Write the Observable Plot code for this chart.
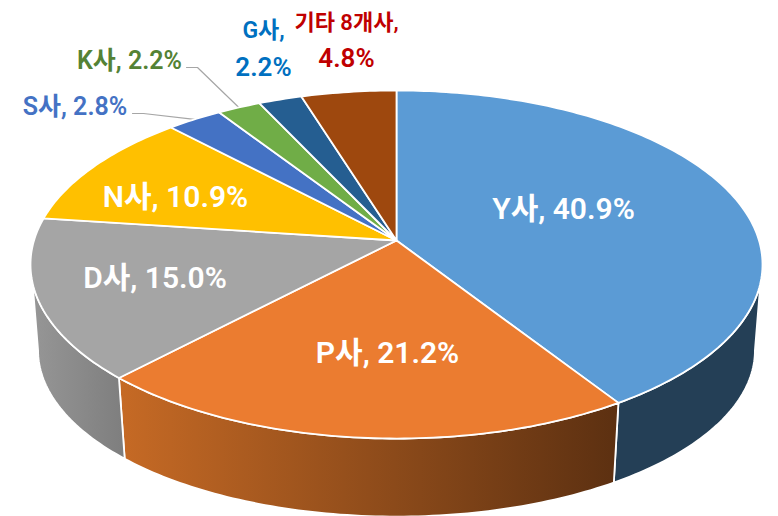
<!DOCTYPE html>
<html lang="ko">
<head>
<meta charset="utf-8">
<style>html,body{margin:0;padding:0;background:#fff}</style>
<script src="https://cdn.jsdelivr.net/npm/d3@7"></script>
<script src="https://cdn.jsdelivr.net/npm/@observablehq/plot@0.6"></script>
</head>
<body>
<script>
// Data
const companies = ["Y사", "P사", "D사", "N사", "S사", "K사", "G사", "기타 8개사"];
const shares = [40.9, 21.2, 15.0, 10.9, 2.8, 2.2, 2.2, 4.8];
const topColors = ["#5B9BD5", "#EB7C30", "#A5A5A5", "#FFC000", "#4472C4", "#70AD47", "#255E91", "#9E480E"];

// Perspective model of the two disks of the pie
const W = 778, H = 516, K = 0.138;
const TOP = {cx: 396, cy: 240, R: 362.5, A: 170.7};
const BOT = {cx: 396, cy: 327, R: 355, A: 163};
const project = (d, deg) => {
  const a = deg * Math.PI / 180, u = Math.sin(a), v = Math.cos(a), w = 1 + K * v;
  return {x: d.cx + d.R * u / w, y: d.cy - d.A * v / w};
};
const arc = (d, a0, a1) => {
  const n = Math.max(2, Math.ceil(Math.abs(a1 - a0))), pts = [];
  for (let i = 0; i <= n; i++) pts.push(project(d, a0 + (a1 - a0) * i / n));
  return pts;
};

// Slice angles from the values
let cum = 0;
const slices = shares.map((s, i) => {
  const a0 = cum * 3.6; cum += s;
  return {name: companies[i], share: s, a0, a1: cum * 3.6, color: topColors[i]};
});
const mid = i => (slices[i].a0 + slices[i].a1) / 2;

const polygon = (pts, fill, strokeWidth = 1.8) =>
  Plot.line(pts, {x: "x", y: "y", curve: "linear-closed", fill, stroke: "#fff", strokeWidth, strokeLinejoin: "round"});

// Visible side walls (the wall leaves the silhouette at slightly different angles on each disk)
const sides = [
  {fill: "url(#sideY)", top: [104, slices[0].a1], bot: [97.9, slices[0].a1]},
  {fill: "url(#sideP)", top: [slices[1].a0, slices[1].a1], bot: [slices[1].a0, slices[1].a1]},
  {fill: "url(#sideD)", top: [slices[2].a0, 256], bot: [slices[2].a0, 262.1]}
];
const sideMarks = sides.map(s => polygon(
  [...arc(TOP, s.top[0], s.top[1]), ...arc(BOT, s.bot[1], s.bot[0])], s.fill));

const topMarks = slices.map(s => polygon(
  [{x: TOP.cx, y: TOP.cy}, ...arc(TOP, s.a0, s.a1)], s.color));

// Leader lines run from outside labels to the rim at the slice's mid angle
const leaderOf = (i, start, elbow) => Plot.line(
  [{x: start[0], y: start[1]}, {x: elbow[0], y: elbow[1]}, project(TOP, mid(i))],
  {x: "x", y: "y", stroke: "#A6A6A6", strokeWidth: 1.2});

const gradient = (id, stops) => `<linearGradient id="${id}" x1="0" x2="1" y1="0" y2="0">${
  stops.map((c, i) => `<stop offset="${i / (stops.length - 1)}" stop-color="${c}"/>`).join("")}</linearGradient>`;
const defsMark = () => {
  const g = document.createElementNS("http://www.w3.org/2000/svg", "defs");
  g.innerHTML = gradient("sideY", ["#243F56", "#243F56"]) +
    gradient("sideP", ["#C66A25", "#5C3011"]) +
    gradient("sideD", ["#969696", "#7E7E7E"]);
  return g;
};

// Labels
const inside = [
  {text: `${companies[0]}, ${shares[0].toFixed(1)}%`, x: 563, y: 209},
  {text: `${companies[1]}, ${shares[1].toFixed(1)}%`, x: 387, y: 353},
  {text: `${companies[2]}, ${shares[2].toFixed(1)}%`, x: 154.5, y: 278},
  {text: `${companies[3]}, ${shares[3].toFixed(1)}%`, x: 175, y: 197}
];
const outside = [
  {text: `${companies[4]}, ${shares[4].toFixed(1)}%`, x: 74.5, y: 106, color: "#4472C4", size: 25},
  {text: `${companies[5]}, ${shares[5].toFixed(1)}%`, x: 129, y: 60, color: "#548235", size: 25},
  {text: `${companies[6]},`, x: 263, y: 30, color: "#0070C0", size: 23},
  {text: `${shares[6].toFixed(1)}%`, x: 263, y: 67, color: "#0070C0", size: 26},
  {text: `${companies[7]},`, x: 346, y: 22, color: "#C00000", size: 22},
  {text: `${shares[7].toFixed(1)}%`, x: 346, y: 58, color: "#C00000", size: 26}
];
const outsideBySize = d3.groups(outside, d => d.size);

const chart = Plot.plot({
  width: W, height: H, margin: 0,
  x: {domain: [0, W], range: [0, W], axis: null},
  y: {domain: [0, H], range: [0, H], axis: null},
  style: {fontFamily: "Roboto, 'Noto Sans CJK KR', sans-serif", background: "#fff"},
  marks: [
    defsMark,
    ...sideMarks,
    leaderOf(4, [132, 113], [143, 113]),
    leaderOf(5, [186, 67], [197, 67]),
    ...topMarks,
    Plot.text(inside, {x: "x", y: "y", text: "text", fill: "#fff", fontSize: 30, fontWeight: 600}),
    ...outsideBySize.map(([size, rows]) =>
      Plot.text(rows, {x: "x", y: "y", text: "text", fill: "color", fontSize: size, fontWeight: 600}))
  ]
});
document.body.appendChild(chart);
</script>
</body>
</html>
